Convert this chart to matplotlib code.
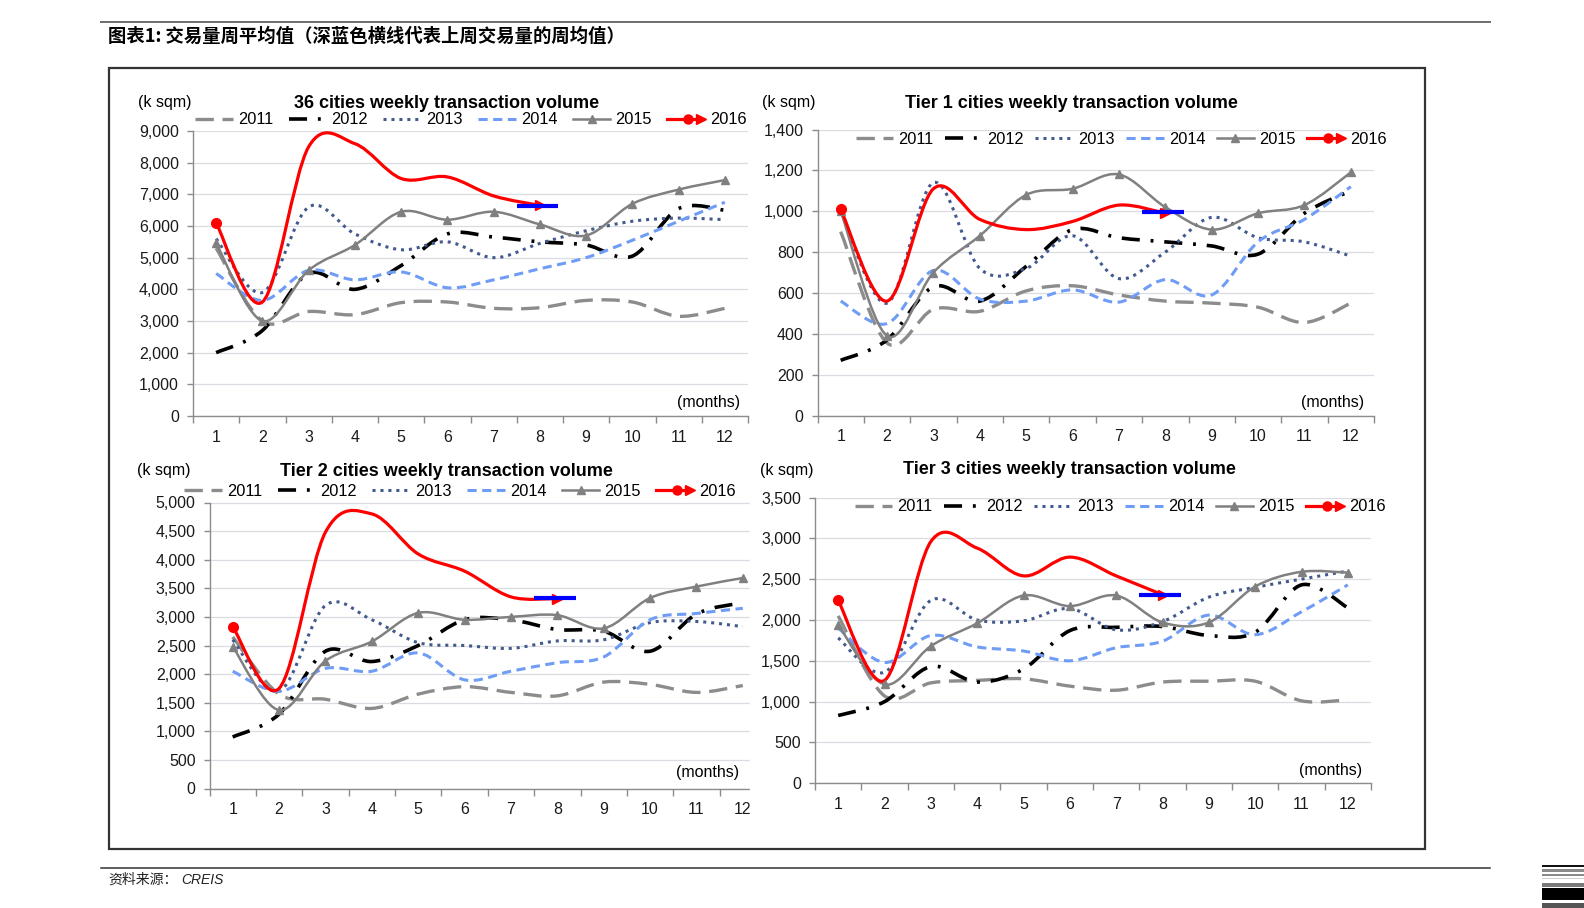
import numpy as np
import matplotlib
matplotlib.use('Agg')
import matplotlib.pyplot as plt
from matplotlib.path import Path
from matplotlib.patches import PathPatch, Rectangle
from matplotlib.lines import Line2D
from matplotlib.legend_handler import HandlerBase
from matplotlib.ticker import FuncFormatter, MultipleLocator

plt.rcParams['font.family'] = ['Liberation Sans', 'DejaVu Sans']

W, H = 1584, 908

months = list(range(1, 13))
years = ['2011', '2012', '2013', '2014', '2015', '2016']

# 36 cities
c36_2011 = [5300, 3000, 3300, 3200, 3580, 3600, 3400, 3420, 3650, 3600, 3150, 3400]
c36_2012 = [2000, 2700, 4500, 4000, 4750, 5750, 5650, 5500, 5400, 5050, 6550, 6500]
c36_2013 = [5600, 3900, 6600, 5750, 5250, 5500, 5000, 5450, 5850, 6150, 6250, 6200]
c36_2014 = [4500, 3650, 4600, 4300, 4550, 4050, 4300, 4650, 5000, 5550, 6150, 6750]
c36_2015 = [5450, 3000, 4600, 5400, 6450, 6200, 6450, 6050, 5700, 6700, 7150, 7450]
c36_2016 = [6100, 3600, 8500, 8600, 7500, 7550, 6950, 6650]
c36_lastweek = 6640

# tier 1
t1_2011 = [900, 355, 520, 510, 610, 635, 590, 560, 550, 530, 455, 550]
t1_2012 = [270, 370, 630, 560, 730, 910, 870, 850, 830, 790, 990, 1100]
t1_2013 = [1000, 550, 1140, 720, 720, 880, 670, 800, 970, 870, 850, 780]
t1_2014 = [560, 450, 710, 570, 560, 615, 555, 665, 590, 850, 960, 1120]
t1_2015 = [1000, 390, 700, 880, 1080, 1110, 1180, 1020, 910, 990, 1030, 1190]
t1_2016 = [1010, 560, 1110, 960, 910, 950, 1030, 990]
t1_lastweek = 995

# tier 2
t2_2011 = [2650, 1650, 1560, 1400, 1650, 1780, 1680, 1620, 1860, 1820, 1680, 1800]
t2_2012 = [900, 1300, 2400, 2220, 2500, 2950, 2950, 2780, 2750, 2400, 3050, 3250]
t2_2013 = [2600, 1700, 3200, 2950, 2550, 2500, 2450, 2580, 2600, 2900, 2920, 2830]
t2_2014 = [2050, 1700, 2100, 2050, 2370, 1900, 2050, 2200, 2300, 2950, 3060, 3150]
t2_2015 = [2480, 1370, 2230, 2570, 3070, 2950, 3000, 3030, 2800, 3330, 3530, 3680]
t2_2016 = [2830, 1750, 4480, 4800, 4100, 3800, 3350, 3320]
t2_lastweek = 3330

# tier 3
t3_2011 = [2050, 1070, 1230, 1260, 1280, 1190, 1140, 1240, 1250, 1250, 1010, 1020]
t3_2012 = [830, 1000, 1430, 1240, 1400, 1870, 1910, 1920, 1810, 1850, 2430, 2150]
t3_2013 = [1780, 1360, 2240, 2000, 1990, 2140, 1880, 1980, 2280, 2400, 2500, 2600]
t3_2014 = [1900, 1480, 1810, 1670, 1620, 1500, 1660, 1740, 2060, 1820, 2100, 2430]
t3_2015 = [1940, 1210, 1680, 1960, 2300, 2170, 2300, 1970, 1970, 2410, 2590, 2580]
t3_2016 = [2240, 1260, 2960, 2880, 2540, 2770, 2540, 2310]
t3_lastweek = 2310

titles = ['36 cities weekly transaction volume', 'Tier 1 cities weekly transaction volume',
          'Tier 2 cities weekly transaction volume', 'Tier 3 cities weekly transaction volume']

# line styles per year
styles = {
    '2011': dict(color='#8c8c8c', lw=2.4, ls=(0, (5.5, 2.6))),
    '2012': dict(color='#000000', lw=2.6, ls=(0, (5, 3, 0.8, 3))),
    '2013': dict(color='#435a8e', lw=2.2, ls=(0, (1, 1.6))),
    '2014': dict(color='#6f9cf5', lw=2.2, ls=(0, (3, 1.8))),
    '2015': dict(color='#808080', lw=1.8, ls='-'),
    '2016': dict(color='#ff0000', lw=2.3, ls='-'),
}


def fx(px):
    return px / W


def fy(py):
    return 1 - py / H


def smooth_path(xs, ys):
    # excel-like smoothed line: cubic bezier through the data points
    pts = np.column_stack([xs, ys]).astype(float)
    n = len(pts)
    verts = [pts[0]]
    codes = [Path.MOVETO]
    for i in range(n - 1):
        p0 = pts[i - 1] if i > 0 else pts[i]
        p1, p2 = pts[i], pts[i + 1]
        p3 = pts[i + 2] if i + 2 < n else pts[i + 1]
        verts += [p1 + (p2 - p0) / 6, p2 - (p3 - p1) / 6, p2]
        codes += [Path.CURVE4] * 3
    return Path(verts, codes)


class RedArrowHandler(HandlerBase):
    def create_artists(self, legend, orig_handle, xdescent, ydescent, width, height, fontsize, trans):
        y = height / 2 - ydescent
        x0, x1 = -xdescent, width - xdescent
        line = Line2D([x0, x1 - 4], [y, y], color='#ff0000', lw=2.3)
        dot = Line2D([x0 + width * 0.55], [y], marker='o', color='#ff0000', ms=6.5)
        tip = Line2D([x1 - 3], [y], marker='>', color='#ff0000', ms=7)
        for a in (line, dot, tip):
            a.set_transform(trans)
        return [line, dot, tip]


fig = plt.figure(figsize=(W / 100, H / 100), dpi=100)

panels = [
    dict(box=(193, 748, 131, 416), ymax=9000, step=1000,
         data=[c36_2011, c36_2012, c36_2013, c36_2014, c36_2015, c36_2016], last=c36_lastweek,
         title=(447, 103), unit=(138, 103), leg=(471, 120, 0.95), months=(740, 403)),
    dict(box=(817.5, 1374, 129.5, 415.5), ymax=1400, step=200,
         data=[t1_2011, t1_2012, t1_2013, t1_2014, t1_2015, t1_2016], last=t1_lastweek,
         title=(1071, 103), unit=(762, 103), leg=(1121, 139, 0.7), months=(1364, 402)),
    dict(box=(209.5, 766, 502.5, 788.5), ymax=5000, step=500,
         data=[t2_2011, t2_2012, t2_2013, t2_2014, t2_2015, t2_2016], last=t2_lastweek,
         title=(446, 471), unit=(137, 471), leg=(460, 491.5, 0.95), months=(739, 772)),
    dict(box=(815, 1371, 497.5, 783.3), ymax=3500, step=500,
         data=[t3_2011, t3_2012, t3_2013, t3_2014, t3_2015, t3_2016], last=t3_lastweek,
         title=(1069, 470), unit=(760, 470), leg=(1120, 507, 0.7), months=(1362, 770)),
]

spine_c = '#8c8c8c'
axes = []
for k, p in enumerate(panels):
    l, r, t, b = p['box']
    ax = fig.add_axes([fx(l), fy(b), (r - l) / W, (b - t) / H])
    axes.append(ax)
    ax.set_xlim(0.5, 12.5)
    ax.set_ylim(0, p['ymax'])
    for s in ['top', 'right']:
        ax.spines[s].set_visible(False)
    for s in ['left', 'bottom']:
        ax.spines[s].set_color(spine_c)
        ax.spines[s].set_linewidth(1)
    ax.yaxis.set_major_locator(MultipleLocator(p['step']))
    ax.yaxis.set_major_formatter(FuncFormatter(lambda v, pos: f'{int(v):,}'))
    ax.grid(axis='y', color='#d9dde3', lw=0.9)
    ax.set_axisbelow(True)
    ax.set_xticks(months)
    ax.set_xticklabels([str(m) for m in months])
    ax.set_xticks(np.arange(0.5, 13, 1), minor=True)
    ax.tick_params(axis='x', which='major', length=0, pad=10, labelsize=11.5, labelcolor='#1a1a1a')
    ax.tick_params(axis='x', which='minor', length=5, width=1, color=spine_c)
    ax.tick_params(axis='y', length=4, width=1, color=spine_c, pad=6, labelsize=11.5, labelcolor='#1a1a1a')

    handles = []
    for yr, vals in zip(years, p['data']):
        st = styles[yr]
        xs = months[:len(vals)]
        ax.add_patch(PathPatch(smooth_path(xs, vals), fill=False, edgecolor=st['color'],
                               lw=st['lw'], linestyle=st['ls'], joinstyle='round'))
        if yr == '2015':
            ax.plot(xs, vals, linestyle='none', marker='^', ms=5.5, color=st['color'])
            handles.append(Line2D([], [], color=st['color'], lw=st['lw'], marker='^', ms=5.5))
        elif yr == '2016':
            ax.plot(xs[0], vals[0], marker='o', ms=7, color=st['color'])
            ax.plot(xs[-1], vals[-1], marker='>', ms=7, color=st['color'])
            handles.append(Line2D([], [], color=st['color']))
        else:
            handles.append(Line2D([], [], color=st['color'], lw=st['lw'], linestyle=st['ls']))
    ax.plot([7.5, 8.4], [p['last'], p['last']], color='#0000ff', lw=3, solid_capstyle='butt')

    cx, cy, cs = p['leg']
    ax.legend(handles, years, loc='center', bbox_to_anchor=(fx(cx), fy(cy)),
              bbox_transform=fig.transFigure, ncol=6, frameon=False, fontsize=11.8,
              handlelength=2.3, handletextpad=0.3, columnspacing=cs, borderpad=0,
              handler_map={handles[-1]: RedArrowHandler()})

    tx, ty = p['title']
    fig.text(fx(tx), fy(ty), titles[k], ha='center', va='center', fontsize=13, fontweight='bold')
    ux, uy = p['unit']
    fig.text(fx(ux), fy(uy), '(k sqm)', ha='left', va='center', fontsize=11.5)
    mx, my = p['months']
    fig.text(fx(mx), fy(my), '(months)', ha='right', va='center', fontsize=11.5)

# tier 2 chart is cut off on its right by the tier 3 chart
fig.add_artist(Rectangle((fx(750), fy(845)), (1420 - 750) / W, (845 - 452) / H,
                         transform=fig.transFigure, color='white', zorder=1))
axes[3].set_zorder(2)

# frame, rules, header and source
fig.add_artist(Rectangle((fx(109), fy(849)), (1425 - 109) / W, (849 - 68) / H, fill=False,
                         edgecolor='#333333', lw=1.6, transform=fig.transFigure, zorder=5))
fig.add_artist(Line2D([fx(101), fx(1490)], [fy(22), fy(22)], color='#6e6e6e', lw=1.4))
fig.add_artist(Line2D([fx(101), fx(1490)], [fy(868), fy(868)], color='#333333', lw=1.1))
fig.text(fx(108), fy(36), '图表1: 交易量周平均值（深蓝色横线代表上周交易量的周均值）',
         family=['Noto Sans CJK SC', 'DejaVu Sans'], fontweight='bold', fontsize=13.2,
         ha='left', va='center')
fig.text(fx(108), fy(880), '资料来源：', family=['Noto Sans CJK SC', 'DejaVu Sans'],
         fontsize=10, ha='left', va='center', color='#222222')
fig.text(fx(181), fy(880), 'CREIS', family=['Liberation Sans'], style='italic',
         fontsize=10, ha='left', va='center', color='#222222')

# corner stripes
for y0, y1, c in [(865, 867, '#111111'), (869, 871.5, '#8a8a8a'), (873.5, 876, '#8a8a8a'),
                  (877.5, 879, '#cfcfcf'), (883, 887, '#7a7a7a'), (888, 900, '#000000'),
                  (903, 908, '#555555')]:
    fig.add_artist(Rectangle((fx(1542), fy(y1)), (1584 - 1542) / W, (y1 - y0) / H,
                             transform=fig.transFigure, color=c, lw=0))

fig.savefig('out.png', dpi=100)
